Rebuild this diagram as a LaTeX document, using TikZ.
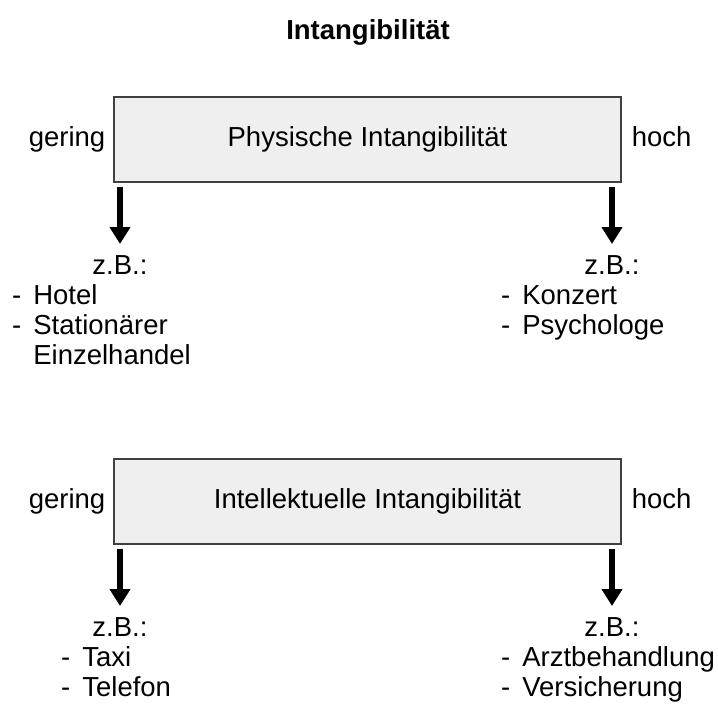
\documentclass[tikz,border=0pt]{standalone}
\usepackage{fontspec}
\setmainfont{Liberation Sans}
\usetikzlibrary{positioning, arrows.meta}
\definecolor{boxfill}{HTML}{EFEFEF}
\definecolor{boxline}{HTML}{404040}
\tikzstyle{scalebox} = [rectangle, minimum width=507pt, minimum height=85pt, text centered, draw=boxline, line width=1.1pt, fill=boxfill]
\tikzstyle{side} = [inner sep=0pt, text height=20pt, text depth=6pt]
\tikzstyle{example} = [inner sep=0pt, anchor=north west]
\tikzstyle{arrow} = [line width=5.5pt, -{Triangle[width=20pt,length=17pt]}]

\begin{document}
\begin{tikzpicture}[x=1pt, y=-1pt, every node/.style={font=\fontsize{27.5}{30}\selectfont}]
\useasboundingbox (0,0) rectangle (718,704);
\node (title) at (368,32) {\bfseries Intangibilität};
% physische Intangibilitaet
\node (phys) [scalebox] at (367.5,139.5) {Physische Intangibilität};
\node (gering1) [side, left=8pt of phys] {gering};
\node (hoch1) [side, right=10pt of phys] {hoch};
\node (zbl1) at (120,265) {z.B.:};
\node (zbr1) at (612,265) {z.B.:};
\node (exl1) [example] at (12,283) {\begin{tabular}{@{}l@{\hspace{12pt}}l@{}}- & Hotel\\- & Stationärer\\ & Einzelhandel\end{tabular}};
\node (exr1) [example] at (501,283) {\begin{tabular}{@{}l@{\hspace{12pt}}l@{}}- & Konzert\\- & Psychologe\end{tabular}};
\draw [arrow] ([yshift=-4pt]phys.south -| zbl1) -- ([yshift=8pt]zbl1.north);
\draw [arrow] ([yshift=-4pt]phys.south -| zbr1) -- ([yshift=8pt]zbr1.north);
% intellektuelle Intangibilitaet
\node (intel) [scalebox] at (367.5,501.5) {Intellektuelle Intangibilität};
\node (gering2) [side, left=8pt of intel] {gering};
\node (hoch2) [side, right=10pt of intel] {hoch};
\node (zbl2) at (120,627) {z.B.:};
\node (zbr2) at (612,627) {z.B.:};
\node (exl2) [example] at (61,645) {\begin{tabular}{@{}l@{\hspace{12pt}}l@{}}- & Taxi\\- & Telefon\end{tabular}};
\node (exr2) [example] at (501,645) {\begin{tabular}{@{}l@{\hspace{12pt}}l@{}}- & Arztbehandlung\\- & Versicherung\end{tabular}};
\draw [arrow] ([yshift=-4pt]intel.south -| zbl2) -- ([yshift=8pt]zbl2.north);
\draw [arrow] ([yshift=-4pt]intel.south -| zbr2) -- ([yshift=8pt]zbr2.north);
\end{tikzpicture}
\end{document}
